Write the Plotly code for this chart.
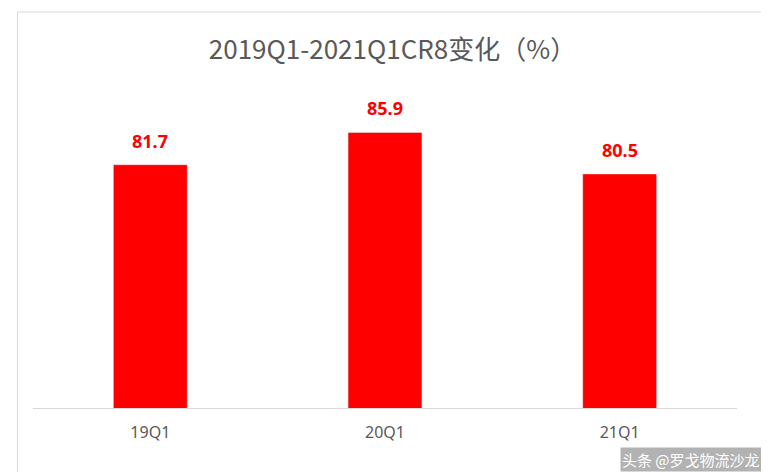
import plotly.graph_objects as go

quarters = ['19Q1', '20Q1', '21Q1']
cr8 = [81.7, 85.9, 80.5]
labels = ['81.7', '85.9', '80.5']

fig = go.Figure(go.Bar(x=quarters, y=cr8, marker_color='#ff0000'))

fig.update_layout(
    width=769, height=472,
    margin=dict(l=25, r=40, t=93, b=72),
    paper_bgcolor='white', plot_bgcolor='white',
    title=dict(text='2019Q1-2021Q1CR8变化（%）', x=0.5, y=0.93, xanchor='center',
               font=dict(size=26, color='#595959', family='Noto Sans CJK SC')),
    bargap=0.685,
    showlegend=False,
    xaxis=dict(showline=True, linecolor='#d9d9d9', linewidth=1, ticks='outside',
               ticklen=10, tickcolor='rgba(0,0,0,0)',
               tickfont=dict(size=16, color='#595959', family='Noto Sans')),
    yaxis=dict(range=[50, 90], visible=False),
    shapes=[dict(type='rect', xref='paper', yref='paper', x0=-0.022, x1=1.043, y0=-0.215, y1=1.29,
                 line=dict(color='#d9d9d9', width=1))],
)

# value labels above bars
for q, v, t in zip(quarters, cr8, labels):
    fig.add_annotation(x=q, y=v, text='<b>%s</b>' % t, showarrow=False, yanchor='bottom',
                       yshift=10, font=dict(color='#ff0000', size=18, family='Noto Sans'))

# watermark
fig.add_annotation(text='头条 @罗戈物流沙龙', xref='paper', yref='paper', x=1.035, y=-0.21,
                   xanchor='right', yanchor='bottom', showarrow=False,
                   font=dict(size=15, color='white', family='Noto Sans CJK SC'),
                   bgcolor='rgba(0,0,0,0.3)')

fig.write_html('out.html')
